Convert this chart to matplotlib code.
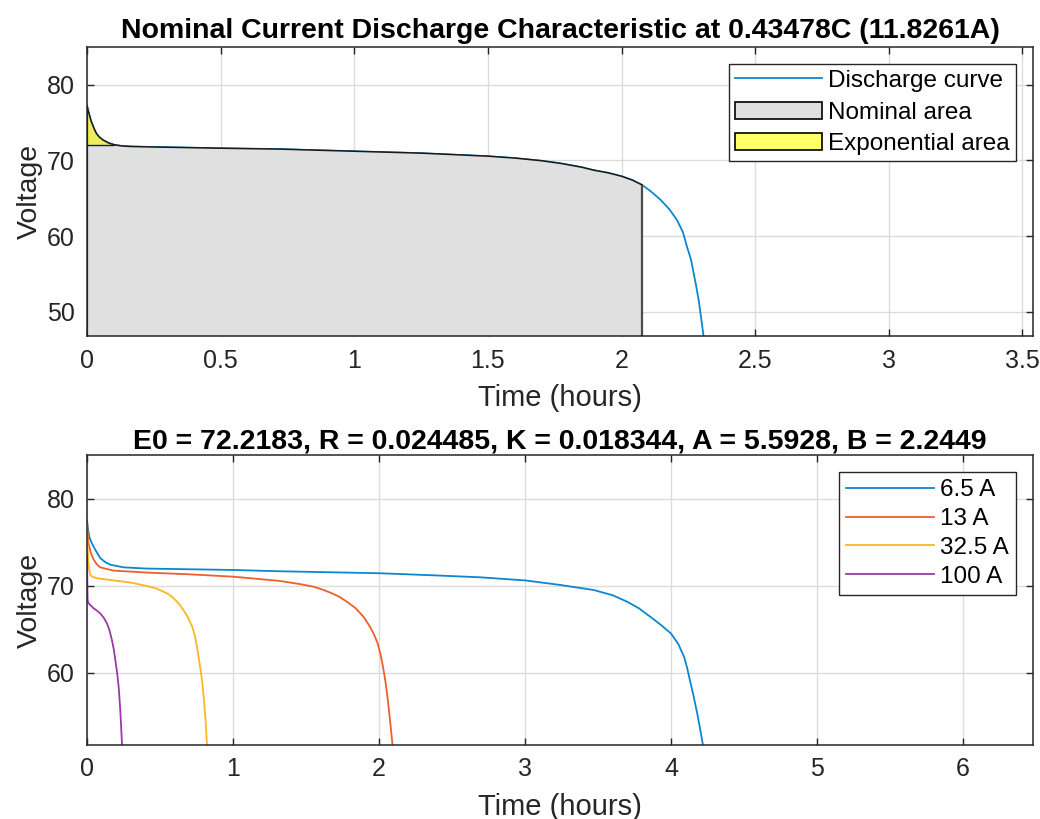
import numpy as np
import matplotlib
matplotlib.use("Agg")
import matplotlib.pyplot as plt

plt.rcParams['font.family'] = ['Liberation Sans', 'DejaVu Sans']

# nominal current discharge curve
t_nom = [0, 0.004, 0.008, 0.015, 0.025, 0.034, 0.045, 0.059, 0.08, 0.102, 0.13, 0.164,
         0.25, 0.35, 0.5, 0.725, 1.0, 1.25, 1.5, 1.6, 1.7, 1.772, 1.85, 1.896, 1.95,
         2.0, 2.04, 2.077, 2.11, 2.146, 2.18, 2.208, 2.23, 2.245, 2.26, 2.27, 2.28,
         2.289, 2.298, 2.307]
v_nom = [77.15, 76.6, 76.1, 75.2, 74.3, 73.6, 73.1, 72.7, 72.3, 72.05, 71.9, 71.83,
         71.76, 71.7, 71.6, 71.48, 71.2, 70.95, 70.55, 70.3, 69.95, 69.6, 69.1, 68.7, 68.35,
         67.9, 67.4, 66.75, 65.9, 64.8, 63.5, 62.1, 60.5, 58.6, 56.9, 55.1, 53.3,
         51.5, 49.2, 46.8]
exp_end_t = 0.102
exp_v = 72.05
nom_end_t = 2.077

# discharge curves at different currents
labels = ['6.5 A', '13 A', '32.5 A', '100 A']
t_65 = [0, 0.005, 0.015, 0.025, 0.035, 0.057, 0.091, 0.125, 0.16, 0.25, 0.41, 0.7, 1.0,
        1.32, 2.01, 2.35, 2.69, 3.0, 3.24, 3.47, 3.6, 3.70, 3.78, 3.86, 3.93, 4.0, 4.05,
        4.09, 4.11, 4.13, 4.155, 4.18, 4.2, 4.22]
v_65 = [77.5, 76.7, 75.65, 75.15, 74.8, 74.1, 73.15, 72.7, 72.4, 72.1, 71.96, 71.88, 71.8,
        71.65, 71.42, 71.2, 70.96, 70.6, 70.08, 69.5, 68.9, 68.15, 67.4, 66.4, 65.5, 64.5, 63.3,
        61.8, 60.6, 59.1, 57.3, 55.3, 53.5, 51.6]
t_13 = [0, 0.004, 0.01, 0.025, 0.045, 0.065, 0.09, 0.18, 0.41, 0.7, 1.0, 1.32, 1.45,
        1.552, 1.62, 1.68, 1.73, 1.78, 1.84, 1.895, 1.93, 1.963, 1.99, 2.009, 2.027,
        2.043, 2.055, 2.066, 2.08, 2.093]
v_13 = [77.4, 76.0, 74.9, 73.8, 73.0, 72.5, 72.1, 71.73, 71.5, 71.3, 71.03, 70.54, 70.2,
        69.88, 69.5, 69.1, 68.7, 68.15, 67.4, 66.4, 65.5, 64.5, 63.4, 62.2, 60.7,
        59.1, 57.6, 56.0, 53.8, 51.6]
t_325 = [0, 0.003, 0.006, 0.01, 0.016, 0.023, 0.04, 0.068, 0.18, 0.30, 0.41, 0.47,
         0.525, 0.56, 0.593, 0.63, 0.66, 0.69, 0.72, 0.738, 0.753, 0.77, 0.788, 0.80,
         0.812, 0.822]
v_325 = [76.9, 75.0, 73.6, 72.5, 71.7, 71.2, 71.0, 70.85, 70.6, 70.35, 69.96, 69.7,
         69.3, 69.0, 68.55, 67.9, 67.2, 66.4, 65.3, 64.3, 62.96, 61.2, 59.1, 57.0,
         54.5, 51.6]
t_100 = [0, 0.001, 0.002, 0.004, 0.01, 0.02, 0.045, 0.07, 0.091, 0.115, 0.137, 0.155,
         0.171, 0.184, 0.194, 0.206, 0.217, 0.228, 0.24]
v_100 = [73.5, 71.5, 70.0, 68.3, 68.0, 67.8, 67.4, 67.1, 66.8, 66.3, 65.65, 64.8,
         63.7, 62.6, 61.4, 60.0, 58.3, 55.6, 51.6]

colors = ['#0C86CF', '#EE5F2C', '#FBB625', '#9A3AA8']
tick_col = '#262626'

fig = plt.figure(figsize=(10.4, 8.19), dpi=100)
ax1 = fig.add_axes([0.0837, 0.5897, 0.9096, 0.3532])
ax2 = fig.add_axes([0.0837, 0.0904, 0.9096, 0.354])

t_nom = np.array(t_nom)
v_nom = np.array(v_nom)

ax1.plot(t_nom, v_nom, color=colors[0], lw=1.3, label='Discharge curve', zorder=2)

# nominal area: under the curve up to nom_end_t, capped at exp_v in the exponential zone
m = t_nom <= nom_end_t
v_cap = np.minimum(v_nom[m], exp_v)
ax1.fill_between(t_nom[m], v_cap, 0, facecolor='#E0E0E0', edgecolor='none', zorder=3)
k = t_nom[m] >= exp_end_t
ax1.plot(t_nom[m][k], v_nom[m][k], color='#1a1a1a', lw=1.1, zorder=5)
ax1.vlines(nom_end_t, 0, v_nom[m][-1], color='#4d4d4d', lw=1.6, zorder=5)

# exponential area
me = t_nom <= exp_end_t
ax1.fill_between(t_nom[me], v_nom[me], exp_v, facecolor='#EDED5E', edgecolor='none', zorder=4)
ax1.plot(t_nom[me], v_nom[me], color='#1a1a1a', lw=1.1, zorder=5)
ax1.hlines(exp_v, 0, exp_end_t, color='#1a1a1a', lw=1.0, zorder=5)
ax1.vlines(0, 0, v_nom[0], color='#1a1a1a', lw=1.6, zorder=5)

ax1.fill([], [], facecolor='#E0E0E0', edgecolor='black', lw=1.2, label='Nominal area')
ax1.fill([], [], facecolor='#FFFF66', edgecolor='black', lw=1.2, label='Exponential area')

ax1.set_xlim(0, 3.54)
ax1.set_ylim(46.8, 85)
ax1.set_xticks([0, 0.5, 1, 1.5, 2, 2.5, 3, 3.5])
ax1.set_xticklabels(['0', '0.5', '1', '1.5', '2', '2.5', '3', '3.5'])
ax1.set_yticks([50, 60, 70, 80])
ax1.set_title('Nominal Current Discharge Characteristic at 0.43478C (11.8261A)',
              fontsize=20.5, fontweight='bold', pad=6)

for t, v, c, lab in zip([t_65, t_13, t_325, t_100], [v_65, v_13, v_325, v_100], colors, labels):
    ax2.plot(t, v, color=c, lw=1.3, label=lab)

ax2.set_xlim(0, 6.48)
ax2.set_ylim(51.7, 85)
ax2.set_xticks([0, 1, 2, 3, 4, 5, 6])
ax2.set_yticks([60, 70, 80])
ax2.set_title('E0 = 72.2183, R = 0.024485, K = 0.018344, A = 5.5928, B = 2.2449',
              fontsize=20.5, fontweight='bold', pad=5)

for ax in (ax1, ax2):
    ax.set_xlabel('Time (hours)', fontsize=21, color=tick_col, labelpad=8)
    ax.set_ylabel('Voltage', fontsize=20.5, color=tick_col, labelpad=3)
    ax.grid(True, color='#DCDCDC', lw=1.0, zorder=0)
    ax.set_axisbelow(True)
    ax.tick_params(direction='in', top=True, right=True, length=5, width=1,
                   colors=tick_col, labelsize=18, pad=9)
    for s in ax.spines.values():
        s.set_color(tick_col)
        s.set_linewidth(1.1)
        s.set_zorder(6)

leg1 = ax1.legend(loc='upper right', fontsize=17.5, fancybox=False, framealpha=1,
                  edgecolor='#262626', handlelength=3.6, handletextpad=0.25,
                  labelspacing=0.4, borderpad=0.25, borderaxespad=0.7)
leg1.get_frame().set_linewidth(1.0)
leg2 = ax2.legend(loc='upper right', fontsize=17.5, fancybox=False, framealpha=1,
                  edgecolor='#262626', handlelength=3.6, handletextpad=0.25,
                  labelspacing=0.28, borderpad=0.3, borderaxespad=0.7)
leg2.get_frame().set_linewidth(1.0)

fig.savefig('out.png', dpi=100)
